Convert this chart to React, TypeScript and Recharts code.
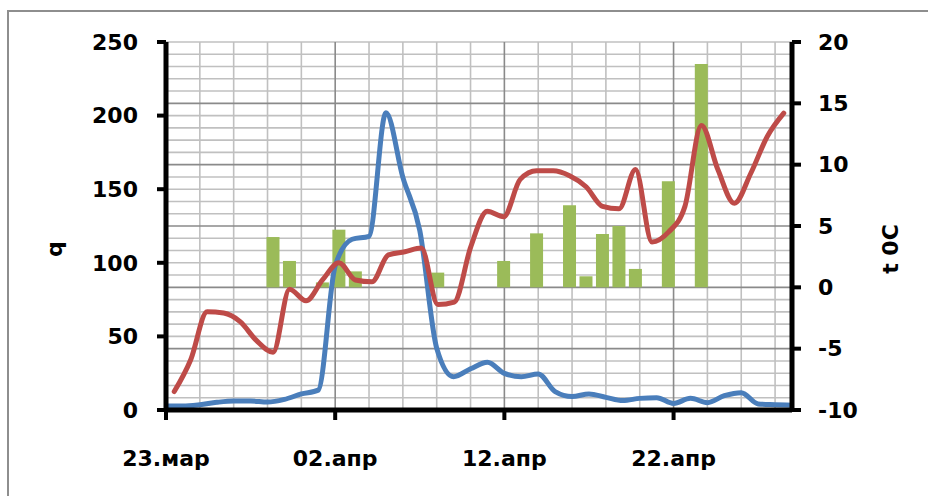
import { ComposedChart, Bar, Line, XAxis, YAxis, CartesianGrid, Label } from 'recharts'

// one slot per day, 23.03 .. 29.04
const slots = [
  '23.03', '24.03', '25.03', '26.03', '27.03', '28.03', '29.03', '30.03', '31.03',
  '01.04', '02.04', '03.04', '04.04', '05.04', '06.04', '07.04', '08.04', '09.04', '10.04',
  '11.04', '12.04', '13.04', '14.04', '15.04', '16.04', '17.04', '18.04', '19.04', '20.04',
  '21.04', '22.04', '23.04', '24.04', '25.04', '26.04', '27.04', '28.04', '29.04',
]

// air temperature, t 0C
const temp = [
  -8.5, -5.9, -2.0, -2.1, -2.8, -4.35, -5.3, -0.15, -1.1, 0.6,
  2.0, 0.6, 0.45, 2.65, 2.9, 3.2, -1.4, -1.2, 3.3, 6.2,
  5.75, 8.8, 9.5, 9.5, 9.1, 8.2, 6.6, 6.4, 9.6, 3.7,
  4.5, 6.6, 13.2, 9.6, 6.85, 9.3, 12.3, 14.2,
]

// precipitation (green bars, right axis)
const precip = [
  null, null, null, null, null, null, 4.1, 2.15, null, 0.4,
  4.7, 1.3, null, null, null, null, 1.2, null, null, null,
  2.15, null, 4.4, null, 6.7, 0.9, 4.35, 5.0, 1.5, null,
  8.65, null, 18.2, null, null, null, null, null,
]

// discharge q, days from 23.03
const flow = [
  2.7, 2.7, 3.6, 5.2, 6.1, 6.1, 5.4, 7.2, 10.9, 13.5,
  98, 116, 118, 202, 158, 122, 42, 22.6, 28, 32.4,
  24.9, 22.6, 24.5, 12.5, 9.1, 10.9, 8.6, 6.4, 7.9, 8.4,
  4.5, 7.9, 5.0, 9.7, 11.8, 4.1, 3.6, 3.2,
]

const dateTicks = [0, 10, 20, 30]
const dateLabels = ['23.мар', '02.апр', '12.апр', '22.апр']
const qTicks = [0, 50, 100, 150, 200, 250]
const tTicks = [-10, -5, 0, 5, 10, 15, 20]
const dayDomain = [0, 37]
const tDomain = [-10, 20]

const minorH = [-9, -8, -7, -6, -4, -3, -2, -1, 1, 2, 3, 4, 6, 7, 8, 9, 11, 12, 13, 14, 16, 17, 18, 19, 20]
const majorH = [-5, 0, 5, 10, 15]
const minorV = [2, 4, 6, 8, 12, 14, 16, 18, 22, 24, 26, 28, 32, 34, 36]
const majorV = [10, 20, 30]

const FONT = { fill: '#000', fontSize: 22, fontWeight: 700, fontFamily: 'DejaVu Sans' }

// value -> pixel from the plot box (linear axes)
function toPx(v: number, dom: number[], start: number, size: number, flip: boolean) {
  const f = (v - dom[0]) / (dom[1] - dom[0])
  return flip ? start + size * (1 - f) : start + size * f
}

const rowsAt = (vals: number[]) => ({ offset }: any) =>
  vals.map((v) => toPx(v, tDomain, offset.top, offset.height, true))
const colsAt = (vals: number[]) => ({ offset }: any) =>
  vals.map((v) => toPx(v, dayDomain, offset.left, offset.width, false))

function AxisTitle(props: any) {
  const { viewBox, text, dx, dy } = props
  const cx = viewBox.x + dx
  const cy = viewBox.y + viewBox.height / 2 + dy
  return (
    <text
      x={cx}
      y={cy}
      transform={`rotate(-90 ${cx} ${cy})`}
      textAnchor="middle"
      dominantBaseline="central"
      style={FONT}
    >
      {text}
    </text>
  )
}

export default function App() {
  const rows = slots.map((s, i) => ({ slot: s, t: temp[i], p: precip[i] }))
  const qRows = flow.map((q, i) => ({ day: i, q }))

  return (
    <div style={{ position: 'fixed', left: 0, top: 0, width: 928, height: 496, overflow: 'hidden', background: '#fff' }}>
      <div
        style={{
          position: 'absolute', left: 7, top: 10, width: 960, height: 520,
          borderLeft: '2px solid #8e8e8e', borderTop: '2px solid #8e8e8e',
        }}
      />
      <div style={{ position: 'absolute', left: 0, top: 0 }}>
        <ComposedChart width={928} height={496} data={rows} margin={{ top: 42, right: 0, bottom: 0, left: 0 }}>
          <XAxis xAxisId="slot" type="category" dataKey="slot" hide />
          <XAxis
            xAxisId="date"
            type="number"
            dataKey="day"
            domain={dayDomain}
            allowDataOverflow
            ticks={dateTicks}
            interval={0}
            tickFormatter={(v) => dateLabels[dateTicks.indexOf(v)] ?? ''}
            height={86}
            tickSize={10}
            tickMargin={30}
            tick={FONT}
            axisLine={{ stroke: '#000', strokeWidth: 5 }}
            tickLine={{ stroke: '#000', strokeWidth: 4 }}
          />
          <YAxis
            yAxisId="q"
            domain={[0, 250]}
            ticks={qTicks}
            interval={0}
            width={166}
            tickSize={9}
            tickMargin={19}
            tick={FONT}
            axisLine={{ stroke: '#000', strokeWidth: 5 }}
            tickLine={{ stroke: '#000', strokeWidth: 4 }}
          >
            <Label content={(p: any) => <AxisTitle {...p} text="q" dx={54} dy={23} />} />
          </YAxis>
          <YAxis
            yAxisId="t"
            orientation="right"
            domain={tDomain}
            ticks={tTicks}
            interval={0}
            width={136}
            tickSize={9}
            tickMargin={17}
            tick={FONT}
            axisLine={{ stroke: '#000', strokeWidth: 5 }}
            tickLine={{ stroke: '#000', strokeWidth: 4 }}
          >
            <Label content={(p: any) => <AxisTitle {...p} text="t 0C" dx={98} dy={23} />} />
          </YAxis>
          <CartesianGrid
            xAxisId="date"
            yAxisId="t"
            horizontalCoordinatesGenerator={rowsAt(minorH)}
            verticalCoordinatesGenerator={colsAt(minorV)}
            stroke="#c0c0c0"
            strokeWidth={1.6}
          />
          <CartesianGrid
            xAxisId="date"
            yAxisId="t"
            horizontalCoordinatesGenerator={rowsAt(majorH)}
            verticalCoordinatesGenerator={colsAt(majorV)}
            stroke="#8a8a8a"
            strokeWidth={1.6}
          />
          <Bar xAxisId="slot" yAxisId="t" dataKey="p" fill="#9bbb59" barCategoryGap={0} isAnimationActive={false} />
          <Line
            data={qRows}
            xAxisId="date"
            yAxisId="q"
            dataKey="q"
            type="monotone"
            stroke="#4a7ebb"
            strokeWidth={5}
            strokeLinecap="round"
            dot={false}
            isAnimationActive={false}
          />
          <Line
            xAxisId="slot"
            yAxisId="t"
            dataKey="t"
            type="monotone"
            stroke="#be4b48"
            strokeWidth={5}
            strokeLinecap="round"
            dot={false}
            isAnimationActive={false}
          />
        </ComposedChart>
      </div>
    </div>
  )
}
